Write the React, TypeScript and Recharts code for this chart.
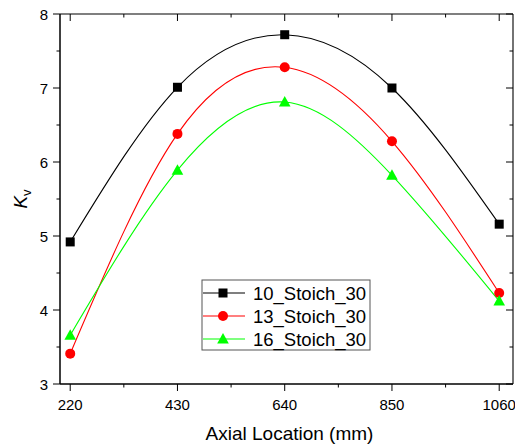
import React from 'react';
import { LineChart, Line, XAxis, YAxis } from 'recharts';

// Axial positions along the burner (mm)
const locations = [220, 430, 640, 850, 1060];

// K_v profiles for each case
const stoich10 = [4.92, 7.01, 7.72, 7.0, 5.16];
const stoich13 = [3.41, 6.38, 7.28, 6.28, 4.23];
const stoich16 = [3.66, 5.89, 6.81, 5.82, 4.12];

const seriesNames = ['10_Stoich_30', '13_Stoich_30', '16_Stoich_30'];
const seriesColors = ['#000000', '#ff0000', '#00ff00'];

// Axis ticks
const xMajorTicks = [220, 430, 640, 850, 1060];
const xMinorTicks = [325, 535, 745, 955];
const yMajorTicks = [3, 4, 5, 6, 7, 8];
const yMinorTicks = [3.5, 4.5, 5.5, 6.5, 7.5];

const xDomain = [200, 1087];
const yDomain = [3, 8];

const FONT = '"Liberation Sans", Arial, Helvetica, sans-serif';

const rows = locations.map((loc, i) => ({
  loc,
  s10: stoich10[i],
  s13: stoich13[i],
  s16: stoich16[i],
}));

const allXTicks = [...xMajorTicks, ...xMinorTicks].sort((a, b) => a - b);
const allYTicks = [...yMajorTicks, ...yMinorTicks].sort((a, b) => a - b);

const MAJOR = 7;
const MINOR = 3.5;

const BottomTick = (props: any) => {
  const { x, y, payload } = props;
  const major = xMajorTicks.includes(payload.value);
  return (
    <g>
      <line x1={x} x2={x} y1={y} y2={y + (major ? MAJOR : MINOR)} stroke="#000" strokeWidth={1} />
      {major && (
        <text x={x} y={y + 26} textAnchor="middle" fontSize={15} fill="#000" fontFamily={FONT}>
          {payload.value}
        </text>
      )}
    </g>
  );
};

const TopTick = (props: any) => {
  const { x, y, payload } = props;
  const major = xMajorTicks.includes(payload.value);
  return <line x1={x} x2={x} y1={y} y2={y + (major ? MAJOR : MINOR)} stroke="#000" strokeWidth={1} />;
};

const LeftTick = (props: any) => {
  const { x, y, payload } = props;
  const major = yMajorTicks.includes(payload.value);
  return (
    <g>
      <line x1={x - (major ? MAJOR : MINOR)} x2={x} y1={y} y2={y} stroke="#000" strokeWidth={1} />
      {major && (
        <text x={x - 12} y={y + 5.5} textAnchor="end" fontSize={15} fill="#000" fontFamily={FONT}>
          {payload.value}
        </text>
      )}
    </g>
  );
};

const RightTick = (props: any) => {
  const { x, y, payload } = props;
  const major = yMajorTicks.includes(payload.value);
  return <line x1={x - (major ? MAJOR : MINOR)} x2={x} y1={y} y2={y} stroke="#000" strokeWidth={1} />;
};

const Square = (cx: number, cy: number, color: string, key?: any) => (
  <rect key={key} x={cx - 4.5} y={cy - 4.5} width={9} height={9} fill={color} />
);
const Circle = (cx: number, cy: number, color: string, key?: any) => (
  <circle key={key} cx={cx} cy={cy} r={5} fill={color} />
);
const Triangle = (cx: number, cy: number, color: string, key?: any) => (
  <polygon key={key} points={`${cx},${cy - 6} ${cx - 5.8},${cy + 4.5} ${cx + 5.8},${cy + 4.5}`} fill={color} />
);
const markers = [Square, Circle, Triangle];

const makeDot = (idx: number) => (props: any) => {
  const { cx, cy, index } = props;
  if (cx == null || cy == null) return <g key={`d${idx}-${index}`} />;
  return markers[idx](cx, cy, seriesColors[idx], `d${idx}-${index}`);
};

const XTitle = (props: any) => {
  const { viewBox } = props;
  const cx = viewBox.x + viewBox.width / 2 + 3;
  return (
    <text x={cx} y={viewBox.y + 56} textAnchor="middle" fontSize={19} fill="#000" fontFamily={FONT}>
      Axial Location (mm)
    </text>
  );
};

const YTitle = (props: any) => {
  const { viewBox } = props;
  const cy = viewBox.y + viewBox.height / 2;
  const tx = 27;
  return (
    <text
      x={tx}
      y={cy}
      transform={`rotate(-90, ${tx}, ${cy})`}
      textAnchor="middle"
      fontSize={19}
      fill="#000"
      fontFamily={FONT}
    >
      <tspan fontStyle="italic">K</tspan>
      <tspan fontSize={13} dy={4}>v</tspan>
    </text>
  );
};

const LegendBox = () => (
  <svg
    width={170}
    height={72}
    style={{ position: 'absolute', left: 201, top: 279, overflow: 'visible' }}
  >
    <rect x={1} y={1} width={168} height={70} fill="#fff" stroke="#555" strokeWidth={1} />
    {seriesNames.map((name, i) => {
      const cy = 14 + i * 23;
      return (
        <g key={name}>
          <line x1={2} x2={44} y1={cy} y2={cy} stroke={seriesColors[i]} strokeWidth={1.2} />
          {markers[i](22, cy, seriesColors[i])}
          <text x={52} y={cy + 6.5} fontSize={18.5} fill="#000" fontFamily={FONT}>
            {name}
          </text>
        </g>
      );
    })}
  </svg>
);

export default function App() {
  return (
    <div style={{ position: 'absolute', left: 0, top: 0, width: 515, height: 446, background: '#fff' }}>
      <LineChart width={515} height={446} data={rows} margin={{ top: 0, right: 0, bottom: 0, left: 0 }}>
        <XAxis
          xAxisId="bottom"
          orientation="bottom"
          dataKey="loc"
          type="number"
          domain={xDomain}
          ticks={allXTicks}
          interval={0}
          height={62}
          tickSize={0}
          tickMargin={0}
          tickLine={false}
          tick={<BottomTick />}
          axisLine={{ stroke: '#000', strokeWidth: 1.3 }}
          allowDataOverflow
          label={<XTitle />}
        />
        <XAxis
          xAxisId="top"
          orientation="top"
          dataKey="loc"
          type="number"
          domain={xDomain}
          ticks={allXTicks}
          interval={0}
          height={14}
          tickSize={0}
          tickMargin={0}
          tickLine={false}
          tick={<TopTick />}
          axisLine={{ stroke: '#000', strokeWidth: 1.1 }}
          allowDataOverflow
        />
        <YAxis
          yAxisId="left"
          orientation="left"
          type="number"
          domain={yDomain}
          ticks={allYTicks}
          interval={0}
          width={60}
          tickSize={0}
          tickMargin={0}
          tickLine={false}
          tick={<LeftTick />}
          axisLine={{ stroke: '#000', strokeWidth: 1.5 }}
          allowDataOverflow
          label={<YTitle />}
        />
        <YAxis
          yAxisId="right"
          orientation="right"
          type="number"
          domain={yDomain}
          ticks={allYTicks}
          interval={0}
          width={2}
          tickSize={0}
          tickMargin={0}
          tickLine={false}
          tick={<RightTick />}
          axisLine={{ stroke: '#000', strokeWidth: 1.1 }}
          allowDataOverflow
        />
        {['s10', 's13', 's16'].map((key, i) => (
          <Line
            key={key}
            xAxisId="bottom"
            yAxisId="left"
            dataKey={key}
            name={seriesNames[i]}
            type="natural"
            stroke={seriesColors[i]}
            strokeWidth={1.1}
            dot={makeDot(i)}
            activeDot={false}
            isAnimationActive={false}
          />
        ))}
      </LineChart>
      <LegendBox />
    </div>
  );
}
